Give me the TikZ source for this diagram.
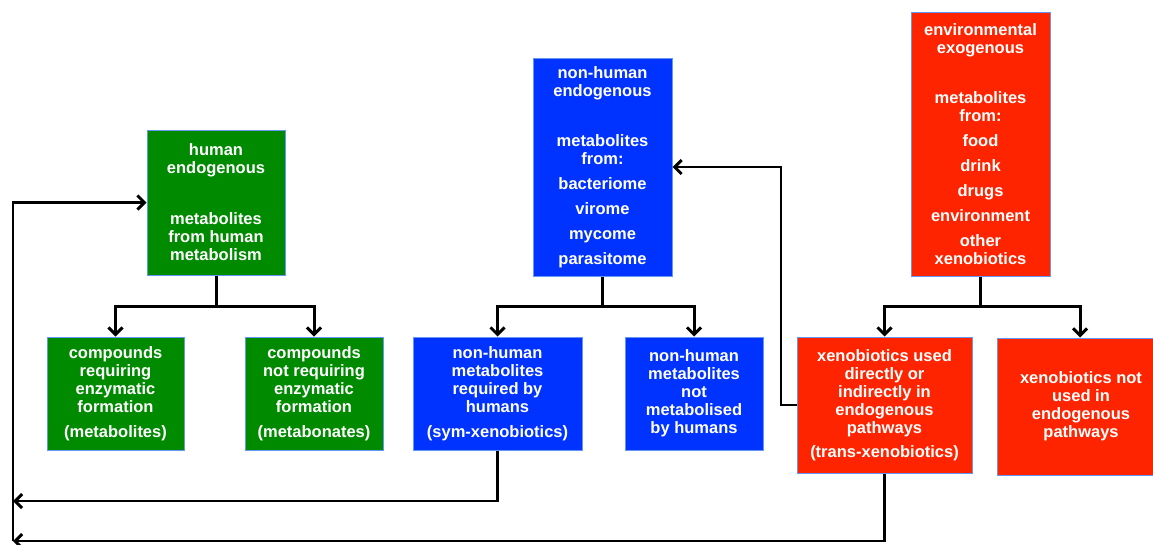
\documentclass[tikz,border=0pt]{standalone}
\usepackage{fontspec}
\setmainfont{Liberation Sans}
\usetikzlibrary{arrows.meta}
\definecolor{gbox}{RGB}{0,138,0}
\definecolor{bbox}{RGB}{0,51,255}
\definecolor{rbox}{RGB}{255,36,0}
\definecolor{edgec}{RGB}{100,150,245}
\tikzset{
  boxbase/.style={draw=edgec, line width=1pt, text=white, inner sep=0pt, align=center,
    font=\fontsize{16.5}{18}\selectfont\bfseries},
  gnode/.style={boxbase, fill=gbox},
  bnode/.style={boxbase, fill=bbox},
  rnode/.style={boxbase, fill=rbox},
  treeline/.style={line width=3pt, draw=black},
  backline/.style={line width=2.3pt, draw=black},
  tip/.style={-{Straight Barb[length=7pt,width=14pt,line width=3pt]}},
}
\begin{document}
\begin{tikzpicture}[x=1pt,y=-1pt]
\useasboundingbox (0,0) rectangle (1153,544);
% boxes
\node[gnode, minimum width=138pt, minimum height=145pt] (he) at (216,202.5)
  {human\\endogenous\\[33pt]metabolites\\from human\\metabolism};
\node[gnode, minimum width=137pt, minimum height=113pt] (cr) at (115.5,393.5)
  {compounds\\requiring\\enzymatic\\formation\\[7pt](metabolites)};
\node[gnode, minimum width=138pt, minimum height=113pt] (cn) at (314,393.5)
  {compounds\\not requiring\\enzymatic\\formation\\[7pt](metabonates)};
\node[bnode, minimum width=139pt, minimum height=218pt] (nh) at (602.5,167)
  {non-human\\endogenous\\[32.5pt]metabolites\\from:\\[7pt]bacteriome\\[7pt]virome\\[7pt]mycome\\[7pt]parasitome};
\node[bnode, minimum width=169pt, minimum height=113pt] (sym) at (497.5,393.5)
  {non-human\\metabolites\\required by\\humans\\[7pt](sym-xenobiotics)};
\node[bnode, minimum width=138pt, minimum height=113pt] (nm) at (694,393.5)
  {non-human\\metabolites\\not\\metabolised\\by humans};
\node[rnode, minimum width=139pt, minimum height=264pt] (env) at (980.5,144)
  {environmental\\exogenous\\[32pt]metabolites\\from:\\[7pt]food\\[7pt]drink\\[7pt]drugs\\[7pt]environment\\[7pt]other\\xenobiotics};
\node[rnode, minimum width=175pt, minimum height=136pt] (tr) at (884.5,405)
  {xenobiotics used\\directly or\\indirectly in\\endogenous\\pathways\\[6pt](trans-xenobiotics)};
\node[rnode, minimum width=168pt, minimum height=137pt] (nu) at (1081,406.5)
  {xenobiotics not\\used in\\endogenous\\pathways};
% tree junctions
\coordinate (hj) at (216,306);
\coordinate (nj) at (602.5,306);
\coordinate (ej) at (980.5,306);
\draw[treeline] (he.south) -- (hj);
\draw[treeline,tip] (hj) -| (cr.north);
\draw[treeline,tip] (hj) -| (cn.north);
\draw[treeline] (nh.south) -- (nj);
\draw[treeline,tip] (nj) -| (sym.north);
\draw[treeline,tip] (nj) -| (nm.north);
\draw[treeline] (env.south) -- (ej);
\draw[treeline,tip] (ej) -| (tr.north);
\draw[treeline,tip] (ej) -| ([xshift=-1pt]nu.north);
% trans -> non-human
\coordinate (tk) at (781,405);
\draw[backline,tip] (tr.west) -- (tk) |- (nh.east);
% back to human endogenous
\coordinate (l1) at (13,501);
\coordinate (l2) at (13,541);
\draw[backline,tip] (sym.south) |- (l1);
\draw[backline,tip] (tr.south) |- (l2);
\draw[backline,tip] (l2) |- (he.west);
\end{tikzpicture}
\end{document}
